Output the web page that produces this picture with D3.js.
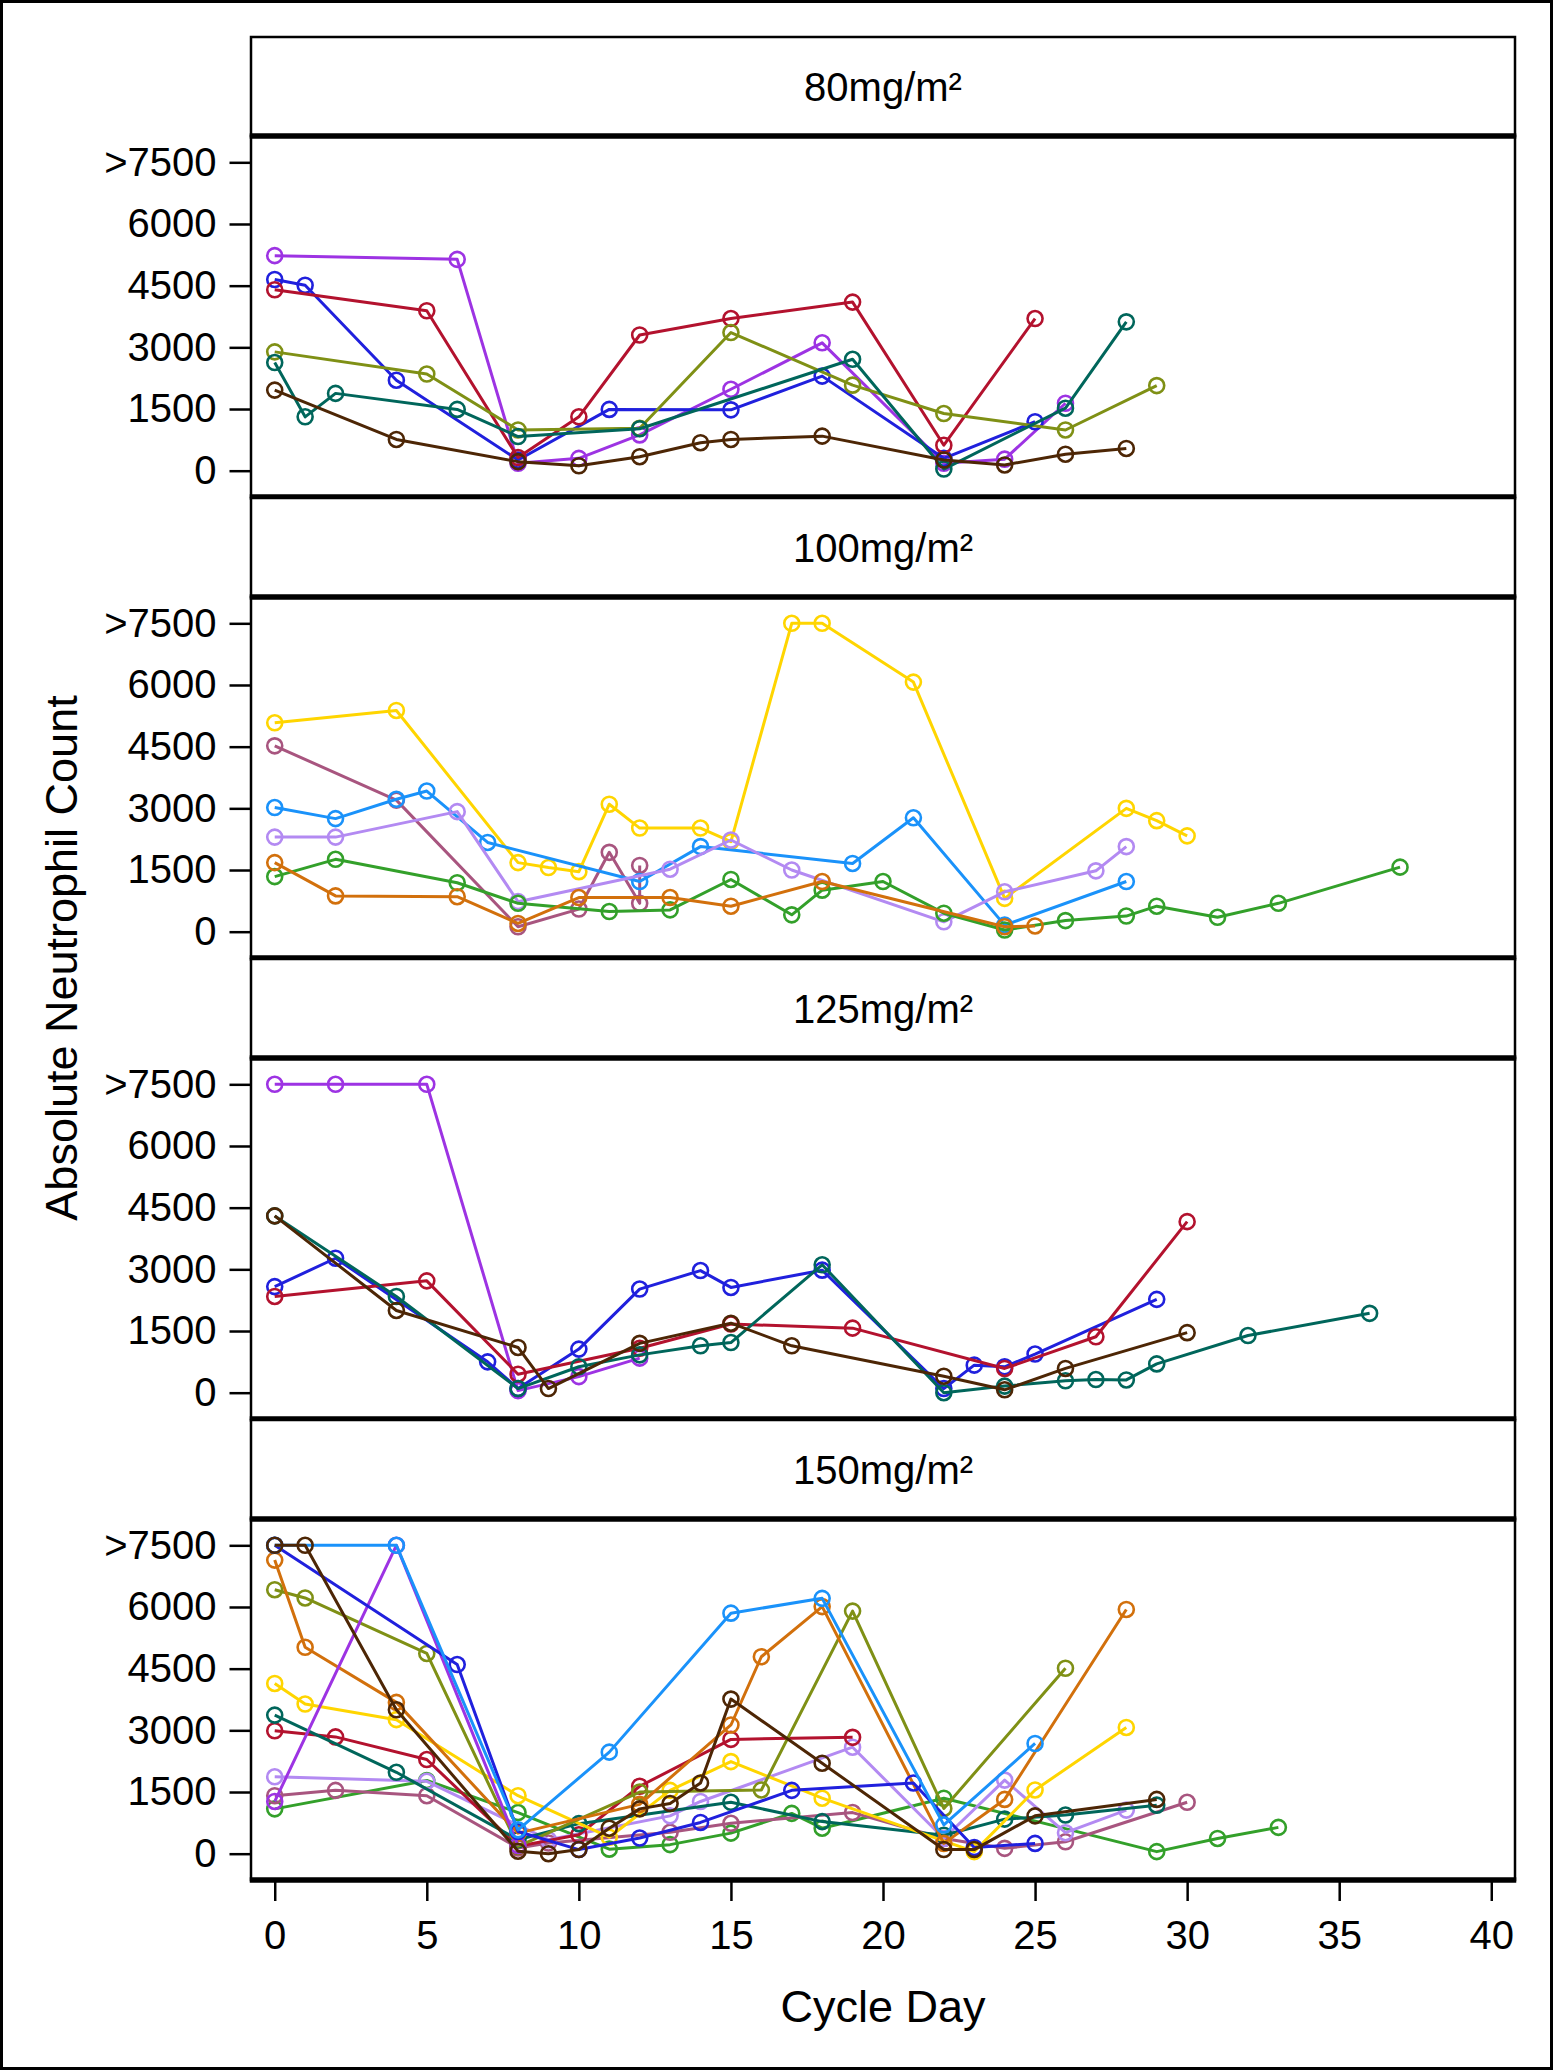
<!DOCTYPE html>
<html>
<head>
<meta charset="utf-8">
<script src="https://cdn.jsdelivr.net/npm/d3@7"></script>
<style>
  html, body { margin: 0; padding: 0; background: #fff; }
  svg { display: block; }
  text { font-family: "Liberation Sans", Arial, Helvetica, sans-serif; fill: #000; }
</style>
</head>
<body>
<svg id="chart" width="1553" height="2070"></svg>
<script>
// ---------------- data ----------------
const panelLabels = ["80mg/m²", "100mg/m²", "125mg/m²", "150mg/m²"];
const yTickValues = [0, 1500, 3000, 4500, 6000, 7500];
const yTickLabels = ["0", "1500", "3000", "4500", "6000", ">7500"];
const xTickValues = [0, 5, 10, 15, 20, 25, 30, 35, 40];
const xTitle = "Cycle Day";
const yTitle = "Absolute Neutrophil Count";

const colors = {
  purple: "#9D33E3", blue: "#2020DD", red: "#B3122E", olive: "#7F9015",
  teal: "#00665B", brown: "#4D2605", gold: "#FFD500", mauve: "#A8557F",
  sky: "#1A92FA", lavender: "#B38AF2", green: "#33A02A", orange: "#D2700C"
};

// 80 mg/m² : [cycle day, ANC]
const p80Purple = [[0,5230],[6,5140],[8,180],[10,300],[12,870],[15,1980],[18,3110],[22,180],[24,280],[26,1640]];
const p80Blue   = [[0,4650],[1,4510],[4,2200],[8,260],[11,1490],[15,1480],[18,2300],[22,300],[25,1190]];
const p80Red    = [[0,4400],[5,3890],[8,320],[10,1310],[12,3300],[15,3700],[19,4100],[22,620],[25,3700]];
const p80Olive  = [[0,2890],[5,2350],[8,990],[12,1030],[15,3360],[19,2080],[22,1390],[26,990],[29,2070]];
const p80Teal   = [[0,2630],[1,1310],[2,1880],[6,1490],[8,830],[12,1020],[19,2710],[22,40],[26,1520],[28,3620]];
const p80Brown  = [[0,1960],[4,760],[8,220],[10,120],[12,340],[14,680],[15,760],[18,840],[22,260],[24,140],[26,400],[28,540]];

// 100 mg/m²
const p100Gold     = [[0,5080],[4,5380],[8,1680],[9,1560],[10,1460],[11,3100],[12,2520],[14,2520],[15,2190],[17,7500],[18,7500],[21,6070],[24,810],[28,3000],[29,2700],[30,2330]];
const p100Mauve    = [[0,4520],[4,3200],[8,120],[10,550],[11,1930],[12,690],[12,1610]];
const p100Sky      = [[0,3020],[2,2750],[4,3220],[5,3420],[7,2170],[12,1220],[14,2070],[19,1660],[21,2770],[24,160],[28,1220]];
const p100Lavender = [[0,2300],[2,2300],[6,2920],[8,730],[13,1520],[15,2230],[17,1500],[22,240],[24,970],[27,1480],[28,2070]];
const p100Green    = [[0,1340],[2,1760],[6,1190],[8,690],[11,490],[13,530],[15,1270],[17,410],[18,1010],[20,1220],[22,450],[24,40],[26,270],[28,380],[29,620],[31,350],[33,690],[37,1570]];
const p100Orange   = [[0,1680],[2,870],[6,850],[8,200],[10,830],[13,830],[15,620],[18,1220],[24,120],[25,140]];

// 125 mg/m²
const p125Purple = [[0,7500],[2,7500],[5,7500],[8,50],[10,390],[12,840]];
const p125Blue   = [[0,2580],[2,3270],[7,750],[8,100],[10,1060],[12,2520],[14,2970],[15,2560],[18,2980],[22,100],[23,670],[24,630],[25,940],[29,2270]];
const p125Red    = [[0,2340],[5,2720],[8,450],[12,1080],[15,1670],[19,1570],[24,590],[27,1360],[30,4160]];
const p125Teal   = [[0,4300],[4,2340],[8,100],[10,630],[12,920],[14,1140],[15,1220],[18,3110],[22,0],[24,160],[26,290],[27,320],[28,310],[29,700],[32,1390],[36,1930]];
const p125Brown  = [[0,4300],[4,2000],[8,1100],[9,100],[12,1200],[15,1690],[17,1140],[22,400],[24,70],[26,590],[30,1460]];

// 150 mg/m²
const p150Green    = [[0,1090],[5,1780],[8,1000],[11,110],[13,220],[15,500],[17,980],[18,620],[22,1350],[29,50],[31,370],[33,640]];
const p150Mauve    = [[0,1410],[2,1540],[5,1410],[8,140],[9,260],[13,520],[15,740],[19,1000],[22,370],[24,130],[26,290],[30,1250]];
const p150Lavender = [[0,1870],[5,1760],[9,340],[13,920],[14,1270],[19,2590],[22,370],[24,1790],[26,510],[28,1060]];
const p150Red      = [[0,2990],[2,2840],[5,2290],[8,180],[10,460],[12,1640],[15,2780],[19,2830]];
const p150Teal     = [[0,3370],[4,1980],[8,340],[10,730],[15,1250],[18,780],[22,450],[24,840],[26,940],[29,1180]];
const p150Gold     = [[0,4140],[1,3640],[4,3260],[8,1410],[11,400],[13,1540],[15,2240],[18,1350],[23,50],[25,1550],[28,3070]];
const p150Olive    = [[0,6420],[1,6220],[5,4870],[8,180],[12,1500],[16,1550],[19,5900],[22,1100],[26,4510]];
const p150Orange   = [[0,7140],[1,5020],[4,3680],[8,500],[12,1200],[15,3130],[16,4790],[18,6010],[22,250],[24,1320],[28,5940]];
const p150Purple   = [[0,1270],[4,7500],[8,200]];
const p150Blue     = [[0,7500],[6,4600],[8,540],[10,100],[12,380],[14,760],[17,1540],[21,1720],[23,150],[25,250]];
const p150Sky      = [[0,7500],[4,7500],[8,580],[11,2470],[15,5850],[18,6210],[22,700],[25,2680]];
const p150Brown    = [[0,7500],[1,7500],[4,3500],[8,60],[9,0],[10,100],[11,620],[12,1090],[13,1220],[14,1720],[15,3760],[18,2200],[22,100],[23,100],[25,920],[29,1320]];

const panelSeries = [
  [["purple",p80Purple],["blue",p80Blue],["red",p80Red],["olive",p80Olive],["teal",p80Teal],["brown",p80Brown]],
  [["gold",p100Gold],["mauve",p100Mauve],["sky",p100Sky],["lavender",p100Lavender],["green",p100Green],["orange",p100Orange]],
  [["purple",p125Purple],["blue",p125Blue],["red",p125Red],["teal",p125Teal],["brown",p125Brown]],
  [["green",p150Green],["mauve",p150Mauve],["lavender",p150Lavender],["red",p150Red],["teal",p150Teal],["gold",p150Gold],
   ["olive",p150Olive],["orange",p150Orange],["purple",p150Purple],["blue",p150Blue],["sky",p150Sky],["brown",p150Brown]]
];

// ---------------- layout ----------------
const W = 1553, H = 2070;
const left = 251, right = 1515;
const firstTop = 37, period = 461, stripH = 99, panelH = 361;
const svg = d3.select("#chart");

svg.append("rect").attr("x", 1.5).attr("y", 1.5).attr("width", W - 3).attr("height", H - 3)
  .attr("fill", "#fff").attr("stroke", "#000").attr("stroke-width", 3);

const x = d3.scaleLinear().domain([-0.78, 40.78]).range([left, right]);

panelLabels.forEach((label, k) => {
  const top = firstTop + period * k;
  const pTop = top + stripH, pBot = pTop + panelH;
  const y = d3.scaleLinear().domain([-640, 8140]).range([pBot, pTop]);
  const g = svg.append("g");

  // strip
  g.append("rect").attr("x", left).attr("y", top).attr("width", right - left).attr("height", stripH)
    .attr("fill", "#fff").attr("stroke", "#000").attr("stroke-width", 2.5);
  g.append("text").attr("x", (left + right) / 2).attr("y", top + 64)
    .attr("text-anchor", "middle").attr("font-size", 40).text(label);

  // panel frame
  g.append("rect").attr("x", left).attr("y", pTop).attr("width", right - left).attr("height", panelH)
    .attr("fill", "#fff").attr("stroke", "#000").attr("stroke-width", 2.5);

  // y axis
  const yAxis = d3.axisLeft(y).tickValues(yTickValues)
    .tickFormat((d, i) => yTickLabels[i]).tickSize(21).tickPadding(13);
  const ga = g.append("g").attr("transform", `translate(${left - 0.5},0)`).call(yAxis);
  ga.select(".domain").remove();
  ga.selectAll(".tick line").attr("stroke", "#000").attr("stroke-width", 2.5);
  ga.selectAll(".tick text").attr("font-size", 40).attr("font-family", "Liberation Sans, Arial, sans-serif").attr("fill", "#000");

  // series
  const line = d3.line().x(d => x(d[0])).y(d => y(d[1]));
  const sg = g.append("g");
  panelSeries[k].forEach(([c, pts]) => {
    sg.append("path").datum(pts).attr("d", line).attr("fill", "none")
      .attr("stroke", colors[c]).attr("stroke-width", 3).attr("stroke-linejoin", "round");
    sg.selectAll(null).data(pts).enter().append("circle")
      .attr("cx", d => x(d[0])).attr("cy", d => y(d[1])).attr("r", 7.5)
      .attr("fill", "none").attr("stroke", colors[c]).attr("stroke-width", 2.6);
  });

  // thick horizontal borders
  [pTop, pBot].forEach(yy => {
    g.append("line").attr("x1", left - 1.25).attr("x2", right + 1.25).attr("y1", yy).attr("y2", yy)
      .attr("stroke", "#000").attr("stroke-width", 5.5);
  });

  if (k === panelLabels.length - 1) {
    const xAxis = d3.axisBottom(x).tickValues(xTickValues).tickSize(20).tickPadding(20);
    const gx = svg.append("g").attr("transform", `translate(0,${pBot + 1})`).call(xAxis);
    gx.select(".domain").remove();
    gx.selectAll(".tick line").attr("stroke", "#000").attr("stroke-width", 2.5);
    gx.selectAll(".tick text").attr("font-size", 40).attr("font-family", "Liberation Sans, Arial, sans-serif").attr("fill", "#000");
  }
});

// axis titles
svg.append("text").attr("x", (left + right) / 2).attr("y", 2022)
  .attr("text-anchor", "middle").attr("font-size", 45).text(xTitle);
svg.append("text").attr("transform", "translate(77,958) rotate(-90)")
  .attr("text-anchor", "middle").attr("font-size", 45).text(yTitle);
</script>
</body>
</html>
